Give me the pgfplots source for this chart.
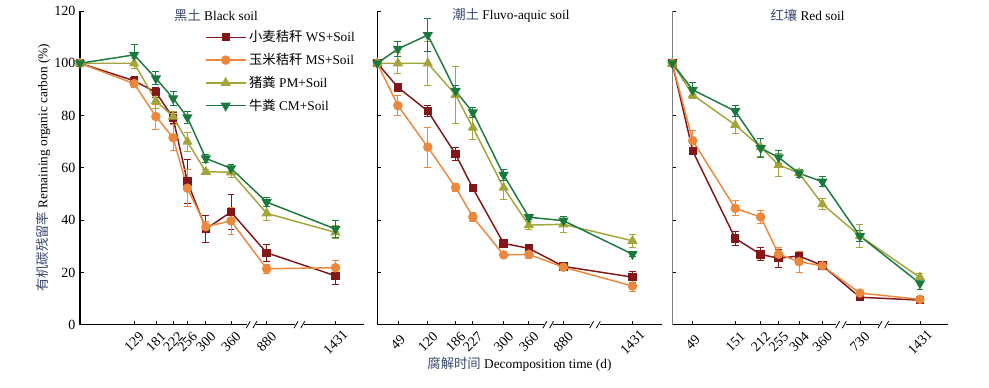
\documentclass[border=0pt]{standalone}
\usepackage{fontspec}
\setmainfont{Liberation Serif}
\newfontfamily\cjk{Noto Sans CJK SC}
\usepackage{pgfplots}
\usepackage{pgfplotstable}
\pgfplotsset{compat=1.18}
\definecolor{cws}{RGB}{130,22,24}
\definecolor{cms}{RGB}{236,136,62}
\definecolor{cpm}{RGB}{163,165,58}
\definecolor{ccm}{RGB}{26,122,62}
\definecolor{cjkgray}{RGB}{60,72,110}

% pos = plotting position on the broken axis; day labels in xticklabels
\pgfplotstableread{
pos ws wse ms mse pm pme cm cme
0   100  0.5 100  0.5 100  0.5 100   0.5
129 93.3 1.5 92.2 1.5 100  2.0 103.2 4.0
181 88.9 2.0 79.6 4.8 85.6 3.0 94.2  2.5
222 79.0 2.0 71.5 5.0 79.6 2.0 86.6  2.8
256 54.7 8.5 52.2 7.0 70.0 3.6 79.3  2.2
300 36.6 5.2 37.5 2.0 58.5 1.0 63.6  1.5
360 43.1 6.7 39.7 5.0 58.3 2.0 59.8  1.5
445 27.5 3.2 21.4 1.8 42.6 2.7 46.9  1.8
609 18.7 3.2 21.8 2.8 35.3 2.5 36.6  3.3
}\tA
\pgfplotstableread{
pos ws wse ms mse pm pme cm cme
0   100  0.5 100  0.5 100  0.5  100   0.5
49  90.8 1.0 83.8 3.7 100  4.0  105.5 3.0
120 81.7 2.0 67.9 7.6 100  8.5  110.8 6.3
186 65.2 2.5 52.5 1.7 87.9 10.8 89.4  2.0
227 52.2 1.0 41.2 1.8 75.4 4.5  81.2  2.0
300 31.1 1.0 26.7 1.0 52.4 4.5  57.3  2.0
360 29.2 1.0 26.9 1.5 38.1 1.5  41.1  1.0
442 22.3 1.0 22.0 1.0 38.4 3.0  39.8  1.5
606 18.2 2.0 14.8 2.0 32.1 2.5  27.0  1.0
}\tB
\pgfplotstableread{
pos ws wse ms mse pm pme cm cme
0   100  0.5 100  0.5 100  0.5 100  0.5
49  66.4 1.0 70.4 3.8 87.9 1.5 89.8 3.0
151 33.0 2.6 44.5 2.9 76.4 3.2 81.7 2.0
212 26.9 2.5 41.2 2.5 67.9 3.4 67.5 3.6
255 25.4 3.4 27.0 2.5 61.1 4.3 64.0 2.5
304 26.3 1.8 24.1 4.0 58.0 1.5 57.9 1.5
360 22.6 1.5 22.5 1.0 46.1 2.0 54.7 2.0
450 10.5 0.8 12.1 1.0 33.9 4.3 33.9 2.0
594 9.4  0.8 9.7  0.8 18.1 1.5 15.8 2.3
}\tC

\pgfplotsset{
  panel/.style={
    scale only axis, height=235.3pt,
    ymin=0, ymax=120, xmin=0,
    axis x line*=bottom, axis y line*=left,
    ytick={0,20,...,120},
    tick align=inside,
    major tick length=3pt,
    tick style={black, line width=0.6pt},
    axis line style={line width=0.8pt},
    /pgf/number format/assume math mode=true,
    ticklabel style={font=\fontsize{10.5}{12}\selectfont},
    xticklabel style={yshift=-13pt, rotate=45, anchor=center},
    clip=false,
  },
  sws/.style={color=cws, line width=1.1pt, mark=square*, mark size=2.6pt,
    mark options={solid, fill=cws},
    error bars/.cd, y dir=both, y explicit,
    error bar style={line width=0.7pt},
    error mark options={rotate=90, mark size=2.6pt, line width=0.7pt}},
  sms/.style={color=cms, line width=1.1pt, mark=*, mark size=3pt,
    mark options={solid, fill=cms},
    error bars/.cd, y dir=both, y explicit,
    error bar style={line width=0.7pt},
    error mark options={rotate=90, mark size=2.6pt, line width=0.7pt}},
  spm/.style={color=cpm, line width=1.1pt, mark=triangle*, mark size=3.4pt,
    mark options={solid, fill=cpm},
    error bars/.cd, y dir=both, y explicit,
    error bar style={line width=0.7pt},
    error mark options={rotate=90, mark size=2.6pt, line width=0.7pt}},
  scm/.style={color=ccm, line width=1.1pt, mark=triangle*, mark size=3.4pt,
    mark options={solid, fill=ccm, rotate=180},
    error bars/.cd, y dir=both, y explicit,
    error bar style={line width=0.7pt},
    error mark options={rotate=90, mark size=2.6pt, line width=0.7pt}},
}

\newcommand{\brk}[1]{%
  \fill[white] ([xshift=-3.5pt,yshift=-1.2pt]axis cs:#1,0) rectangle ([xshift=3.5pt,yshift=1.2pt]axis cs:#1,0);
  \draw[black, line width=0.6pt] ([xshift=-4pt,yshift=-2.6pt]axis cs:#1,0) -- ([xshift=-1pt,yshift=2.6pt]axis cs:#1,0);
  \draw[black, line width=0.6pt] ([xshift=1pt,yshift=-2.6pt]axis cs:#1,0) -- ([xshift=4pt,yshift=2.6pt]axis cs:#1,0);
}

\begin{document}
\begin{tikzpicture}
\path[use as bounding box] (0,0) rectangle (741.75pt,290.25pt);

% Panel 1: Black soil
\begin{axis}[panel, at={(60pt,46.725pt)}, anchor=south west,
  width=213pt, xmax=677,
  xtick={129,181,222,256,300,360,445,609},
  xticklabels={129,181,222,256,300,360,880,1431},
  ylabel={{\color{cjkgray}\cjk 有机碳残留率} Remaining organic carbon (\%)},
  ylabel style={at={(axis description cs:-0.13,0.5)}, anchor=center, rotate=0,
    font=\fontsize{10}{12}\selectfont},
  legend style={at={(axis description cs:0.425,0.955)}, anchor=north west,
    draw=none, fill=none, font=\fontsize{10}{12}\selectfont, row sep=3.2pt,
    nodes={inner xsep=2pt}},
  legend cell align=left,
  legend image code/.code={\draw[mark repeat=2,mark phase=2] plot coordinates {(0pt,0pt) (15pt,0pt) (30pt,0pt)};},
]
\addplot[sws] table[x=pos, y=ws, y error=wse] {\tA};
\addlegendentry{{\cjk 小麦秸秆} WS+Soil}
\addplot[sms] table[x=pos, y=ms, y error=mse] {\tA};
\addlegendentry{{\cjk 玉米秸秆} MS+Soil}
\addplot[spm] table[x=pos, y=pm, y error=pme] {\tA};
\addlegendentry{{\cjk 猪粪} PM+Soil}
\addplot[scm] table[x=pos, y=cm, y error=cme] {\tA};
\addlegendentry{{\cjk 牛粪} CM+Soil}
\brk{409}\brk{523}
\node[font=\fontsize{10}{12}\selectfont] at (axis description cs:0.479,0.985) {{\color{cjkgray}\cjk 黑土} Black soil};
\end{axis}

% Panel 2: Fluvo-aquic soil
\begin{axis}[panel, at={(282.975pt,46.725pt)}, anchor=south west,
  width=213.3pt, xmax=675.5,
  yticklabels={},
  xtick={49,120,186,227,300,360,442,606},
  xticklabels={49,120,186,227,300,360,880,1431},
  xlabel={{\color{cjkgray}\cjk 腐解时间} Decomposition time (d)},
  xlabel style={at={(axis description cs:0.5,-0.125)}, anchor=center,
    font=\fontsize{10}{12}\selectfont},
]
\addplot[sws] table[x=pos, y=ws, y error=wse] {\tB};
\addplot[sms] table[x=pos, y=ms, y error=mse] {\tB};
\addplot[spm] table[x=pos, y=pm, y error=pme] {\tB};
\addplot[scm] table[x=pos, y=cm, y error=cme] {\tB};
\brk{406}\brk{517}
\node[font=\fontsize{10}{12}\selectfont] at (axis description cs:0.47,0.985) {{\color{cjkgray}\cjk 潮土} Fluvo-aquic soil};
\end{axis}

% Panel 3: Red soil
\begin{axis}[panel, at={(504.225pt,46.725pt)}, anchor=south west,
  width=207pt, xmax=662,
  yticklabels={},
  xtick={49,151,212,255,304,360,450,594},
  xticklabels={49,151,212,255,304,360,730,1431},
  y axis line style={gray, line width=1.2pt},
]
\addplot[sws] table[x=pos, y=ws, y error=wse] {\tC};
\addplot[sms] table[x=pos, y=ms, y error=mse] {\tC};
\addplot[spm] table[x=pos, y=pm, y error=pme] {\tC};
\addplot[scm] table[x=pos, y=cm, y error=cme] {\tC};
\brk{404.5}\brk{506}
\node[font=\fontsize{10}{12}\selectfont] at (axis description cs:0.49,0.985) {{\color{cjkgray}\cjk 红壤} Red soil};
\end{axis}
\end{tikzpicture}
\end{document}
